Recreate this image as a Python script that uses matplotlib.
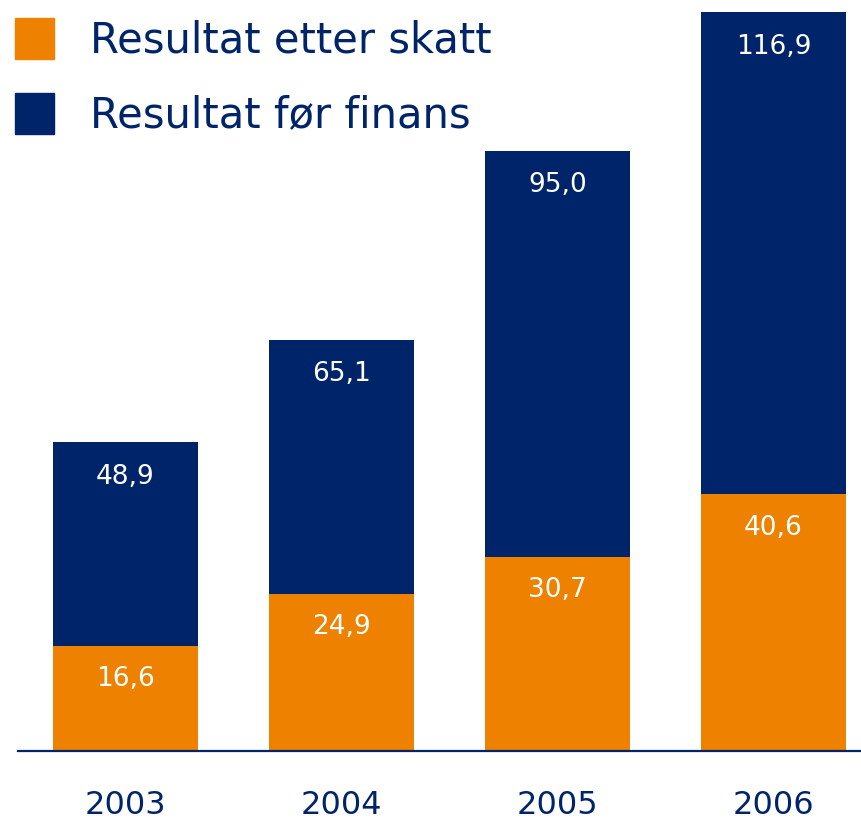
import matplotlib.pyplot as plt
from matplotlib.patches import Patch

years = ["2003", "2004", "2005", "2006"]
for_finans = [48.9, 65.1, 95.0, 116.9]
etter_skatt = [16.6, 24.9, 30.7, 40.6]

orange = "#ee8100"
navy = "#002469"

fig = plt.figure(figsize=(8.61, 8.24), dpi=100)
ax = fig.add_axes([0, 0, 1, 1])

x = list(range(len(years)))
w = 0.67
ax.bar(x, for_finans, width=w, color=navy, zorder=2)
ax.bar(x, etter_skatt, width=w, color=orange, zorder=3)

def fmt(v):
    return f"{v:.1f}".replace(".", ",")

for i in x:
    ax.annotate(fmt(for_finans[i]), (i, for_finans[i]), xytext=(0, -25),
                textcoords="offset points", ha="center", va="center",
                color="white", fontsize=19, zorder=4)
    ax.annotate(fmt(etter_skatt[i]), (i, etter_skatt[i]), xytext=(0, -24),
                textcoords="offset points", ha="center", va="center",
                color="white", fontsize=19, zorder=4)
    ax.annotate(years[i], (i, 0), xytext=(0, -39), textcoords="offset points",
                ha="center", va="center", color=navy, fontsize=23)

ax.set_xlim(-0.581, 3.405)
ax.set_ylim(-11.55, 118.83)
ax.plot([-0.498, 3.5], [0, 0], color=navy, lw=1.6, zorder=5, clip_on=False)
ax.axis("off")

handles = [Patch(color=orange), Patch(color=navy)]
ax.legend(handles, ["Resultat etter skatt", "Resultat før finans"],
          loc="upper left", bbox_to_anchor=(15 / 861, 1 - 18 / 824),
          bbox_transform=fig.transFigure, frameon=False, fontsize=30,
          labelcolor=navy, handlelength=0.94, handleheight=1.15,
          handletextpad=0.86, labelspacing=0.74, borderpad=0, borderaxespad=0)

fig.savefig("out.png", dpi=100)
